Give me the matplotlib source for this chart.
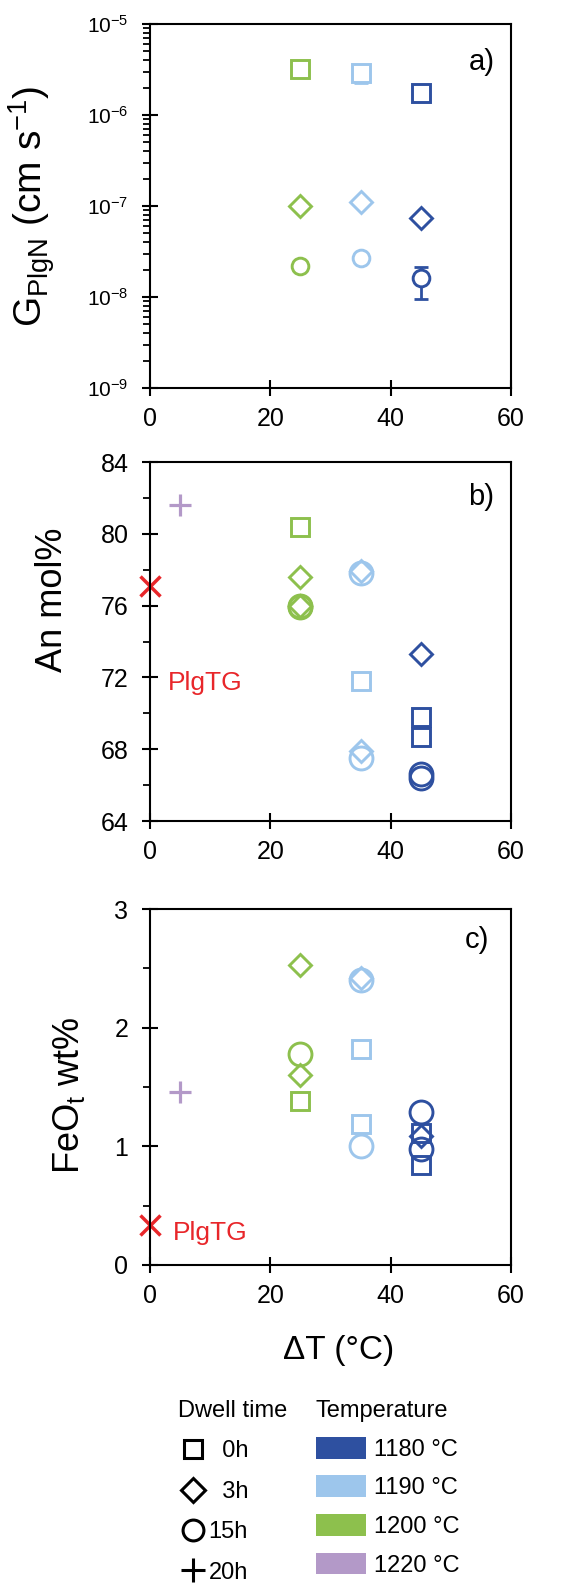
import matplotlib
matplotlib.use('Agg')
import matplotlib.pyplot as plt
from matplotlib.lines import Line2D
from matplotlib.patches import Patch
from matplotlib.ticker import LogLocator, NullFormatter, MultipleLocator, FixedLocator

plt.rcParams['font.family'] = ['Liberation Sans', 'DejaVu Sans']
plt.rcParams['mathtext.fontset'] = 'custom'
plt.rcParams['mathtext.rm'] = 'Liberation Sans'
plt.rcParams['mathtext.it'] = 'Liberation Sans:italic'
plt.rcParams['mathtext.bf'] = 'Liberation Sans:bold'

# a) growth rate of plagioclase
growth_dT = [25, 35, 45, 25, 35, 45, 25, 35, 45]
growth_dwell = ['0h', '0h', '0h', '3h', '3h', '3h', '15h', '15h', '15h']
growth_temp = [1200, 1190, 1180, 1200, 1190, 1180, 1200, 1190, 1180]
growth_val = [3.2e-6, 2.9e-6, 1.75e-6, 1.0e-7, 1.1e-7, 7.4e-8, 2.2e-8, 2.7e-8, 1.6e-8]
growth_err_lo = [0, 0.65e-6, 0, 0, 0, 0, 0, 0, 0.65e-8]
growth_err_hi = [0, 0.3e-6, 0, 0, 0, 0, 0, 0, 0.55e-8]

# b) An content
an_dT = [5, 25, 25, 25, 25, 25, 35, 35, 35, 35, 35, 45, 45, 45, 45, 45]
an_dwell = ['20h', '0h', '3h', '3h', '15h', '15h', '3h', '15h', '0h', '3h', '15h',
            '3h', '0h', '0h', '15h', '15h']
an_temp = [1220, 1200, 1200, 1200, 1200, 1200, 1190, 1190, 1190, 1190, 1190,
           1180, 1180, 1180, 1180, 1180]
an_val = [81.6, 80.4, 77.6, 76.0, 76.0, 75.9, 77.9, 77.8, 71.8, 67.9, 67.5,
          73.3, 69.8, 68.7, 66.6, 66.4]
an_plgtg = 77.1

# c) FeOt content
fe_dT = [5, 25, 25, 25, 25, 35, 35, 35, 35, 35, 45, 45, 45, 45, 45]
fe_dwell = ['20h', '3h', '15h', '3h', '0h', '3h', '15h', '0h', '0h', '15h',
            '15h', '0h', '3h', '15h', '0h']
fe_temp = [1220, 1200, 1200, 1200, 1200, 1190, 1190, 1190, 1190, 1190,
           1180, 1180, 1180, 1180, 1180]
fe_val = [1.46, 2.53, 1.78, 1.60, 1.38, 2.42, 2.40, 1.82, 1.19, 1.00,
          1.29, 1.11, 1.09, 0.98, 0.84]
fe_plgtg = 0.34

temps = [1180, 1190, 1200, 1220]
temp_colors = ['#2E50A0', '#9DC6EC', '#8DC04D', '#B399C8']
dwells = ['0h', '3h', '15h', '20h']
dwell_markers = ['s', 'D', 'o', '+']
red = '#E8262A'

color_of = dict(zip(temps, temp_colors))
marker_of = dict(zip(dwells, dwell_markers))

W, H = 579, 1585
fig = plt.figure(figsize=(W / 100, H / 100), dpi=100)


def box(left, right, top, bottom):
    return [left / W, 1 - bottom / H, (right - left) / W, (bottom - top) / H]


def style_axis(ax):
    for s in ax.spines.values():
        s.set_linewidth(1.5)
    ax.tick_params(which='major', direction='inout', length=11, width=1.5,
                   labelsize=18, top=False, right=False)
    ax.tick_params(axis='x', pad=8)
    ax.tick_params(axis='y', pad=10)
    ax.tick_params(which='minor', direction='out', length=5, width=1.3,
                   top=False, right=False, bottom=False)
    ax.set_xlim(0, 60)
    ax.xaxis.set_major_locator(MultipleLocator(20))


def draw_points(ax, xs, dwell, temp, vals, sizes, fill='none'):
    for x, d, t, v in zip(xs, dwell, temp, vals):
        m = marker_of[d]
        ax.plot(x, v, ls='none', marker=m, ms=sizes[d], mfc=fill,
                mec=color_of[t], mew=2.3 if m == '+' else 2.1, zorder=3)


def ylabel_at(ax, text, x, y, size):
    ax.set_ylabel(text, fontsize=size, va='center')
    ax.yaxis.set_label_coords(x / W, 1 - y / H, transform=fig.transFigure)


# ---- a)
ax1 = fig.add_axes(box(150, 511, 24, 388))
ax1.set_yscale('log')
ax1.set_ylim(1e-9, 1e-5)
style_axis(ax1)
ax1.yaxis.set_major_locator(FixedLocator([1e-9, 1e-8, 1e-7, 1e-6, 1e-5]))
ax1.yaxis.set_minor_locator(LogLocator(base=10, subs=range(2, 10)))
ax1.yaxis.set_minor_formatter(NullFormatter())
ax1.tick_params(axis='y', labelsize=15)
for x, t, v, lo, hi in zip(growth_dT, growth_temp, growth_val, growth_err_lo, growth_err_hi):
    if lo or hi:
        ax1.errorbar(x, v, yerr=[[lo], [hi]], fmt='none', ecolor=color_of[t],
                     elinewidth=2, capsize=5, capthick=2, zorder=2)
draw_points(ax1, growth_dT, growth_dwell, growth_temp, growth_val,
            {'0h': 12.5, '3h': 11.5, '15h': 12, '20h': 16}, fill='white')
ax1.text(0.918, 0.896, 'a)', transform=ax1.transAxes, fontsize=21,
         ha='center', va='center')
ylabel_at(ax1, r'G$_{\mathrm{PlgN}}$ (cm s$^{\mathrm{-1}}$)', 32, 206, 28)

# ---- b)
ax2 = fig.add_axes(box(150, 511, 462, 821))
ax2.set_ylim(64, 84)
style_axis(ax2)
ax2.yaxis.set_major_locator(MultipleLocator(4))
ax2.yaxis.set_minor_locator(MultipleLocator(2))
ax2.plot(0, an_plgtg, ls='none', marker='x', ms=15, mew=2.5, color=red, clip_on=False)
ax2.text(3, 71.7, 'PlgTG', color=red, fontsize=19, va='center')
draw_points(ax2, an_dT, an_dwell, an_temp, an_val,
            {'0h': 12.5, '3h': 11.5, '15h': 16.5, '20h': 16})
ax2.text(0.916, 0.903, 'b)', transform=ax2.transAxes, fontsize=21,
         ha='center', va='center')
ylabel_at(ax2, 'An mol%', 52, 600, 26)

# ---- c)
ax3 = fig.add_axes(box(150, 511, 909, 1265))
ax3.set_ylim(0, 3)
style_axis(ax3)
ax3.yaxis.set_major_locator(MultipleLocator(1))
ax3.yaxis.set_minor_locator(MultipleLocator(0.5))
ax3.plot(0, fe_plgtg, ls='none', marker='x', ms=15, mew=2.5, color=red, clip_on=False)
ax3.text(3.8, 0.27, 'PlgTG', color=red, fontsize=19, va='center')
draw_points(ax3, fe_dT, fe_dwell, fe_temp, fe_val,
            {'0h': 12.5, '3h': 11.5, '15h': 16.5, '20h': 16})
ax3.text(0.905, 0.913, 'c)', transform=ax3.transAxes, fontsize=21,
         ha='center', va='center')
ylabel_at(ax3, r'FeO$_{\mathrm{t}}$ wt%', 69, 1095, 26)
ax3.set_xlabel('ΔT (°C)', fontsize=24, va='center')
ax3.xaxis.set_label_coords(339 / W, 1 - 1350 / H, transform=fig.transFigure)

# ---- legends
dwell_handles = [Line2D([], [], ls='none', marker=m, color='black', mfc='none',
                        mec='black', ms=s, mew=2.2)
                 for m, s in zip(dwell_markers, [13, 12, 15, 17])]
dwell_labels = ['  ' + d if len(d) == 2 else d for d in dwells]
fig.legend(dwell_handles, dwell_labels, title='Dwell time', loc='upper left',
           bbox_to_anchor=(178 / W, 1 - 1400 / H), frameon=False, fontsize=17,
           title_fontsize=17, alignment='left', borderpad=0, borderaxespad=0,
           handlelength=1.3, handletextpad=0.0, labelspacing=0.78)

temp_handles = [Patch(facecolor=c, edgecolor='none') for c in temp_colors]
temp_labels = ['%d °C' % t for t in temps]
fig.legend(temp_handles, temp_labels, title='Temperature', loc='upper left',
           bbox_to_anchor=(316 / W, 1 - 1400 / H), frameon=False, fontsize=17,
           title_fontsize=17, alignment='left', borderpad=0, borderaxespad=0,
           handlelength=2.1, handleheight=1.05, handletextpad=0.35,
           labelspacing=0.62)

fig.savefig('out.png', dpi=100)
